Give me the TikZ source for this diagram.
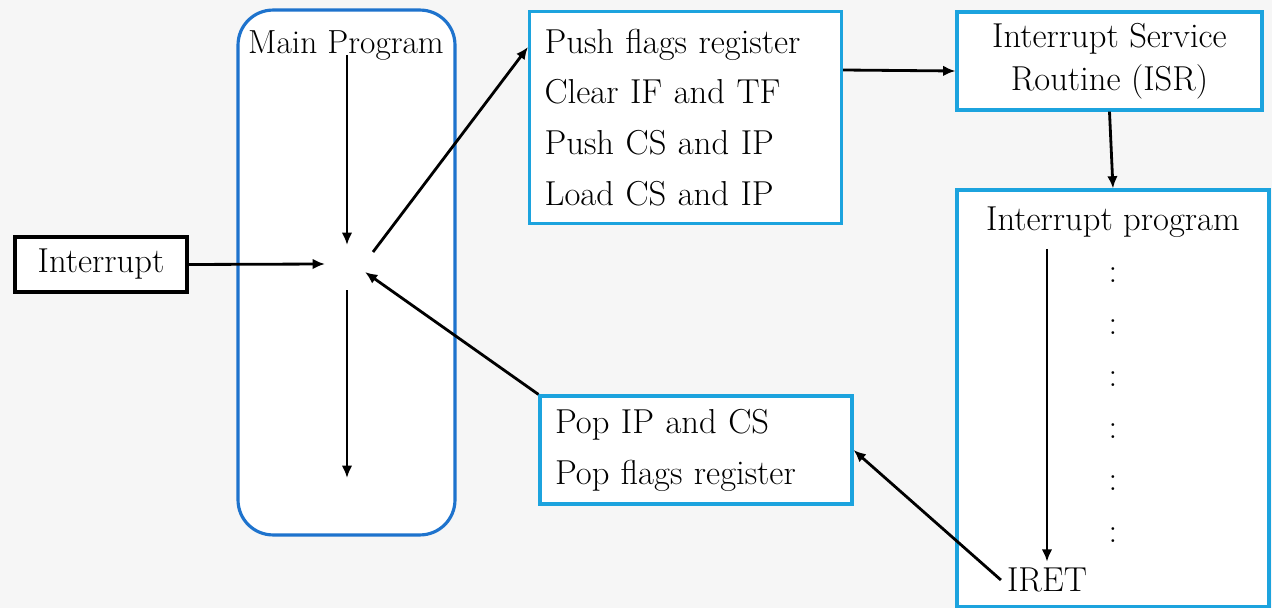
\documentclass[tikz,border=0pt]{standalone}
\usetikzlibrary{arrows.meta,positioning,calc}

\definecolor{mainblue}{RGB}{30,115,205}
\definecolor{boxcyan}{RGB}{28,163,222}
\definecolor{slidebg}{RGB}{246,246,246}

\tikzset{
  arr/.style={-{Latex[length=7pt,width=6pt]}, line width=1.6pt},
  cyanbox/.style={draw=boxcyan, line width=1.8pt, fill=white, inner sep=0pt},
  txt/.style={font=\fontsize{19.7pt}{29pt}\selectfont},
}

\begin{document}
\begin{tikzpicture}[x=0.02cm, y=-0.02cm]
            \fill[slidebg] (0,0) rectangle (1272,608);
            \useasboundingbox (0,0) rectangle (1272,608);

            % Main program column
            \node[draw=mainblue, line width=1.8pt, rounded corners=0.7cm, fill=white,
                  minimum width=4.34cm, minimum height=10.5cm, inner sep=0pt]
                (main) at (346.5,272.5) {};
            \node[font=\fontsize{19pt}{22pt}\selectfont] (mainlbl) at (346,46) {Main Program};
            \coordinate (hub) at (347,266);

            % Interrupt input
            \node[draw, line width=1.8pt, fill=white, txt, minimum width=3.44cm,
                  minimum height=1.1cm, inner sep=0pt] (intr) at (101,264.5) {Interrupt};

            % Push box
            \node[cyanbox, txt, minimum width=6.24cm, minimum height=4.24cm,
                  text width=5.64cm, align=left, anchor=north west] (push) at (528,10)
                {Push flags register\\ Clear IF and TF\\ Push CS and IP\\ Load CS and IP};

            % ISR box
            \node[cyanbox, font=\fontsize{19.7pt}{24.5pt}\selectfont, minimum width=6.1cm,
                  minimum height=1.96cm, align=center] (isr) at (1109.5,61)
                {Interrupt Service\\ Routine (ISR)};

            % Interrupt program
            \node[cyanbox, minimum width=6.24cm, minimum height=8.34cm] (iprog) at (1113,398.5) {};
            \node[txt] (iplbl) at (1113,222) {Interrupt program};
            \foreach \y in {275,327,379,431,483,535}
                \node[txt] (dot\y) at (1113,\y) {:};
            \node[txt] (iret) at (1047,580) {IRET};

            % Pop box
            \node[cyanbox, txt, minimum width=6.24cm, minimum height=2.16cm,
                  text width=5.64cm, align=left] (pop) at (696,450)
                {Pop IP and CS\\ Pop flags register};

            % Arrows
            \draw[arr] ($(hub)+(0,-211)$) -- ($(hub)+(0,-21)$);
            \draw[arr] (intr.east) -- ($(hub)+(-22,-2)$);
            \draw[arr] ($(hub)+(26,-14)$) -- ($(push.north west)+(0,37)$);
            \draw[arr] (pop.north west) -- ($(hub)+(18,6)$);
            \draw[arr] ($(hub)+(0,24)$) -- ($(hub)+(0,212)$);
            \draw[arr] ($(push.north east)+(0,60)$) -- ($(isr.west)+(0,10)$);
            \draw[arr] (isr.south) -- (iprog.north);
            \draw[arr, shorten <=3pt] (iret.north |- iplbl.south) -- (iret.north);
            \draw[arr] (iret.west) -- (pop.east);
\end{tikzpicture}
\end{document}
